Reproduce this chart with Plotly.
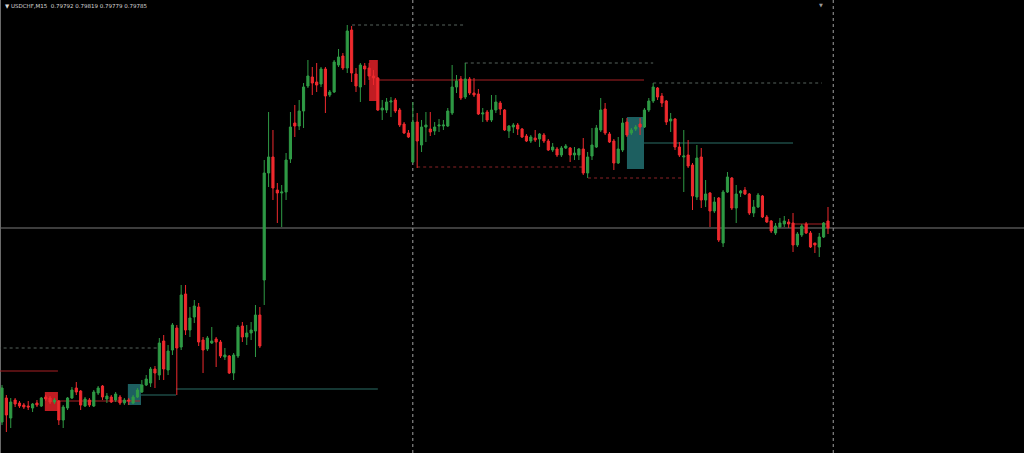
import plotly.graph_objects as go

# ---- candle data (USDCHF M15) ----
opens = [0.79591,0.79615,0.79595,0.79613,0.79610,0.79608,0.79607,0.79605,0.79610,0.79607,
0.79616,0.79615,0.79611,0.79612,0.79593,0.79605,0.79615,0.79625,0.79622,0.79607,
0.79613,0.79607,0.79620,0.79627,0.79614,0.79616,0.79613,0.79616,0.79610,0.79613,
0.79610,0.79616,0.79621,0.79628,0.79630,0.79644,0.79638,0.79672,0.79643,0.79663,
0.79685,0.79666,0.79719,0.79683,0.79696,0.79706,0.79673,0.79664,0.79670,0.79674,
0.79671,0.79656,0.79657,0.79640,0.79657,0.79687,0.79676,0.79680,0.79682,0.79698,
0.79733,0.79840,0.79856,0.79823,0.79820,0.79821,0.79854,0.79890,0.79887,0.79902,
0.79927,0.79936,0.79931,0.79929,0.79944,0.79918,0.79921,0.79948,0.79957,0.79945,
0.79983,0.79939,0.79926,0.79947,0.79945,0.79937,0.79935,0.79903,0.79903,0.79911,
0.79913,0.79903,0.79889,0.79880,0.79851,0.79891,0.79868,0.79886,0.79884,0.79882,
0.79887,0.79887,0.79887,0.79900,0.79926,0.79934,0.79916,0.79934,0.79920,0.79919,
0.79899,0.79901,0.79893,0.79903,0.79910,0.79903,0.79882,0.79886,0.79888,0.79884,
0.79877,0.79872,0.79875,0.79874,0.79878,0.79872,0.79863,0.79864,0.79858,0.79865,
0.79865,0.79858,0.79858,0.79864,0.79840,0.79857,0.79866,0.79883,0.79904,0.79879,
0.79872,0.79850,0.79863,0.79891,0.79880,0.79884,0.79889,0.79886,0.79903,0.79912,
0.79925,0.79917,0.79912,0.79892,0.79894,0.79866,0.79856,0.79858,0.79848,0.79816,
0.79856,0.79813,0.79820,0.79802,0.79815,0.79770,0.79821,0.79835,0.79805,0.79820,
0.79823,0.79819,0.79800,0.79806,0.79817,0.79796,0.79792,0.79780,0.79786,0.79789,
0.79791,0.79790,0.79768,0.79778,0.79789,0.79780,0.79770,0.79766,0.79776,0.79792]
highs = [0.79628,0.79618,0.79615,0.79615,0.79612,0.79610,0.79612,0.79610,0.79613,0.79616,
0.79618,0.79617,0.79615,0.79613,0.79608,0.79616,0.79626,0.79631,0.79623,0.79616,
0.79615,0.79623,0.79627,0.79628,0.79620,0.79618,0.79621,0.79618,0.79615,0.79615,
0.79618,0.79625,0.79633,0.79638,0.79646,0.79647,0.79675,0.79678,0.79668,0.79690,
0.79688,0.79728,0.79728,0.79706,0.79713,0.79710,0.79676,0.79677,0.79686,0.79676,
0.79673,0.79665,0.79658,0.79660,0.79688,0.79691,0.79688,0.79691,0.79708,0.79706,
0.79853,0.79901,0.79883,0.79830,0.79828,0.79860,0.79901,0.79908,0.79913,0.79930,
0.79953,0.79946,0.79950,0.79946,0.79946,0.79923,0.79953,0.79964,0.79960,0.79988,
0.79987,0.79945,0.79950,0.79950,0.79950,0.79943,0.79936,0.79913,0.79915,0.79916,
0.79915,0.79905,0.79891,0.79883,0.79911,0.79900,0.79893,0.79901,0.79901,0.79891,
0.79894,0.79893,0.79905,0.79948,0.79938,0.79937,0.79950,0.79936,0.79935,0.79924,
0.79905,0.79903,0.79918,0.79918,0.79912,0.79904,0.79888,0.79890,0.79890,0.79885,
0.79879,0.79878,0.79883,0.79880,0.79880,0.79874,0.79870,0.79866,0.79867,0.79869,
0.79866,0.79866,0.79865,0.79875,0.79861,0.79885,0.79888,0.79915,0.79910,0.79881,
0.79874,0.79876,0.79895,0.79895,0.79885,0.79888,0.79895,0.79905,0.79915,0.79930,
0.79926,0.79920,0.79913,0.79900,0.79895,0.79871,0.79883,0.79873,0.79850,0.79868,
0.79865,0.79833,0.79821,0.79816,0.79816,0.79823,0.79841,0.79836,0.79828,0.79823,
0.79826,0.79820,0.79813,0.79820,0.79818,0.79798,0.79793,0.79790,0.79795,0.79797,
0.79794,0.79800,0.79781,0.79789,0.79791,0.79782,0.79770,0.79780,0.79791,0.79806]
lows = [0.79588,0.79581,0.79585,0.79606,0.79605,0.79604,0.79603,0.79601,0.79606,0.79606,
0.79612,0.79609,0.79609,0.79588,0.79585,0.79603,0.79614,0.79618,0.79603,0.79606,
0.79606,0.79606,0.79618,0.79613,0.79610,0.79610,0.79611,0.79608,0.79608,0.79608,
0.79609,0.79615,0.79620,0.79627,0.79626,0.79625,0.79633,0.79633,0.79638,0.79658,
0.79618,0.79663,0.79678,0.79676,0.79690,0.79667,0.79640,0.79662,0.79669,0.79646,
0.79655,0.79653,0.79639,0.79633,0.79655,0.79671,0.79668,0.79673,0.79656,0.79665,
0.79708,0.79826,0.79813,0.79790,0.79786,0.79813,0.79850,0.79876,0.79883,0.79885,
0.79925,0.79918,0.79921,0.79926,0.79900,0.79916,0.79920,0.79946,0.79943,0.79940,
0.79931,0.79921,0.79911,0.79928,0.79933,0.79928,0.79902,0.79893,0.79900,0.79896,
0.79900,0.79886,0.79879,0.79875,0.79850,0.79845,0.79861,0.79871,0.79877,0.79878,
0.79881,0.79883,0.79886,0.79898,0.79920,0.79913,0.79914,0.79918,0.79916,0.79898,
0.79891,0.79891,0.79891,0.79900,0.79898,0.79882,0.79875,0.79880,0.79878,0.79875,
0.79871,0.79870,0.79871,0.79866,0.79870,0.79862,0.79861,0.79856,0.79856,0.79864,
0.79851,0.79853,0.79853,0.79838,0.79835,0.79853,0.79865,0.79881,0.79878,0.79870,
0.79843,0.79849,0.79861,0.79876,0.79878,0.79882,0.79878,0.79885,0.79901,0.79910,
0.79913,0.79906,0.79888,0.79881,0.79863,0.79856,0.79821,0.79845,0.79803,0.79813,
0.79805,0.79806,0.79786,0.79800,0.79771,0.79766,0.79820,0.79803,0.79790,0.79816,
0.79818,0.79798,0.79796,0.79805,0.79795,0.79790,0.79780,0.79778,0.79785,0.79786,
0.79785,0.79761,0.79766,0.79776,0.79779,0.79765,0.79760,0.79756,0.79775,0.79779]
closes = [0.79625,0.79598,0.79611,0.79609,0.79607,0.79606,0.79606,0.79609,0.79608,0.79615,
0.79614,0.79611,0.79613,0.79593,0.79606,0.79615,0.79623,0.79621,0.79608,0.79614,
0.79608,0.79621,0.79625,0.79616,0.79617,0.79611,0.79619,0.79610,0.79613,0.79612,
0.79616,0.79623,0.79628,0.79634,0.79644,0.79640,0.79670,0.79644,0.79662,0.79688,
0.79665,0.79718,0.79683,0.79695,0.79707,0.79671,0.79663,0.79675,0.79672,0.79671,
0.79657,0.79658,0.79640,0.79658,0.79686,0.79676,0.79680,0.79683,0.79698,0.79667,
0.79840,0.79856,0.79825,0.79820,0.79821,0.79853,0.79886,0.79887,0.79902,0.79926,
0.79937,0.79930,0.79928,0.79944,0.79917,0.79921,0.79951,0.79956,0.79945,0.79982,
0.79940,0.79927,0.79948,0.79944,0.79937,0.79935,0.79903,0.79905,0.79911,0.79912,
0.79902,0.79888,0.79880,0.79876,0.79891,0.79872,0.79886,0.79888,0.79881,0.79886,
0.79888,0.79888,0.79902,0.79926,0.79932,0.79915,0.79934,0.79920,0.79918,0.79899,
0.79900,0.79893,0.79903,0.79911,0.79904,0.79883,0.79887,0.79888,0.79884,0.79876,
0.79872,0.79876,0.79873,0.79879,0.79872,0.79863,0.79866,0.79858,0.79865,0.79867,
0.79858,0.79860,0.79864,0.79840,0.79856,0.79868,0.79885,0.79903,0.79880,0.79871,
0.79850,0.79864,0.79890,0.79878,0.79883,0.79886,0.79886,0.79903,0.79912,0.79926,
0.79916,0.79910,0.79891,0.79894,0.79866,0.79858,0.79857,0.79847,0.79817,0.79855,
0.79813,0.79819,0.79802,0.79811,0.79773,0.79821,0.79836,0.79805,0.79819,0.79822,
0.79819,0.79800,0.79806,0.79818,0.79796,0.79791,0.79782,0.79787,0.79790,0.79792,
0.79789,0.79768,0.79779,0.79787,0.79780,0.79766,0.79768,0.79776,0.79790,0.79785]
bars = list(range(len(opens)))

title_text = "\u25bc USDCHF,M15  0.79792 0.79819 0.79779 0.79785"
bid_price = 0.79785
shift_marker_bar = 187.3

# zones: (start bar, end bar, low price, high price)
supply_zones = [(9.8, 12.8, 0.79602, 0.79621), (84.0, 86.0, 0.79912, 0.79953)]
demand_zones = [(28.8, 31.8, 0.79608, 0.79629), (143.0, 146.9, 0.79844, 0.79896)]
# levels: (start bar, end bar, price)
red_levels = [(-1, 12.8, 0.79642), (12.8, 31.6, 0.79612), (86.0, 146.9, 0.79933), (181.0, 189.0, 0.79789)]
teal_levels = [(31.8, 39.8, 0.79618), (39.8, 86.0, 0.79624), (146.9, 181.0, 0.79870)]
grey_dotted = [(-1, 35.7, 0.79665), (80.1, 105.9, 0.79988), (105.9, 149.0, 0.79950), (149.0, 187.6, 0.79930)]
red_dotted = [(95.0, 133.0, 0.79846), (134.1, 156.1, 0.79835)]
vlines = [94.0, 190.2]

GREEN = "#2f9a45"
RED = "#ee2a2e"

fig = go.Figure()
fig.add_trace(go.Candlestick(
    x=bars, open=opens, high=highs, low=lows, close=closes,
    increasing=dict(line=dict(color=GREEN, width=1), fillcolor=GREEN),
    decreasing=dict(line=dict(color=RED, width=1), fillcolor=RED),
    whiskerwidth=0, showlegend=False, hoverinfo="skip"))

shapes = []
for x0, x1, lo, hi in supply_zones:
    shapes.append(dict(type="rect", xref="x", yref="y", x0=x0, x1=x1, y0=lo, y1=hi,
                       fillcolor="#c01c22", line=dict(width=0), layer="below"))
for x0, x1, lo, hi in demand_zones:
    shapes.append(dict(type="rect", xref="x", yref="y", x0=x0, x1=x1, y0=lo, y1=hi,
                       fillcolor="#1d5f60", line=dict(width=0), layer="below"))
for x0, x1, p in red_levels:
    shapes.append(dict(type="line", xref="x", yref="y", x0=x0, x1=x1, y0=p, y1=p,
                       line=dict(color="#a82024", width=1), layer="below"))
for x0, x1, p in teal_levels:
    shapes.append(dict(type="line", xref="x", yref="y", x0=x0, x1=x1, y0=p, y1=p,
                       line=dict(color="#2b6e66", width=1), layer="below"))
for x0, x1, p in grey_dotted:
    shapes.append(dict(type="line", xref="x", yref="y", x0=x0, x1=x1, y0=p, y1=p,
                       line=dict(color="#56635c", width=1, dash="dot"), layer="below"))
for x0, x1, p in red_dotted:
    shapes.append(dict(type="line", xref="x", yref="y", x0=x0, x1=x1, y0=p, y1=p,
                       line=dict(color="#8a2226", width=1, dash="dot"), layer="below"))
shapes.append(dict(type="line", xref="paper", yref="y", x0=0, x1=1, y0=bid_price, y1=bid_price,
                   line=dict(color="#7a7a7a", width=1), layer="below"))
for vx in vlines:
    shapes.append(dict(type="line", xref="x", yref="paper", x0=vx, x1=vx, y0=0, y1=1,
                       line=dict(color="#a0a0a0", width=1, dash="dot"), layer="below"))
shapes.append(dict(type="line", xref="paper", yref="paper", x0=0.0005, x1=0.0005, y0=0, y1=1,
                   line=dict(color="#6a6a6a", width=1), layer="below"))

fig.update_layout(
    width=1024, height=453,
    margin=dict(l=0, r=0, t=0, b=0),
    paper_bgcolor="#000000", plot_bgcolor="#000000",
    xaxis=dict(visible=False, range=[-0.458, 233.85], rangeslider=dict(visible=False), fixedrange=True),
    yaxis=dict(visible=False, range=[0.79560, 0.80013], fixedrange=True),
    shapes=shapes,
    annotations=[
        dict(text=title_text, xref="paper", yref="paper", x=0.003, y=0.998,
             xanchor="left", yanchor="top", showarrow=False,
             font=dict(family="DejaVu Sans", size=5.5, color="#d8d8d8")),
        dict(text="\u25bc", xref="x", yref="paper", x=shift_marker_bar, y=1.0,
             xanchor="center", yanchor="top", showarrow=False,
             font=dict(family="DejaVu Sans", size=5, color="#9a9a9a")),
    ],
    showlegend=False,
)
fig.write_html("out.html", config={"displayModeBar": False},
               post_script="document.body.style.margin='0';document.body.style.padding='0';"
                           "document.body.style.background='#000';document.body.style.overflow='hidden';")
